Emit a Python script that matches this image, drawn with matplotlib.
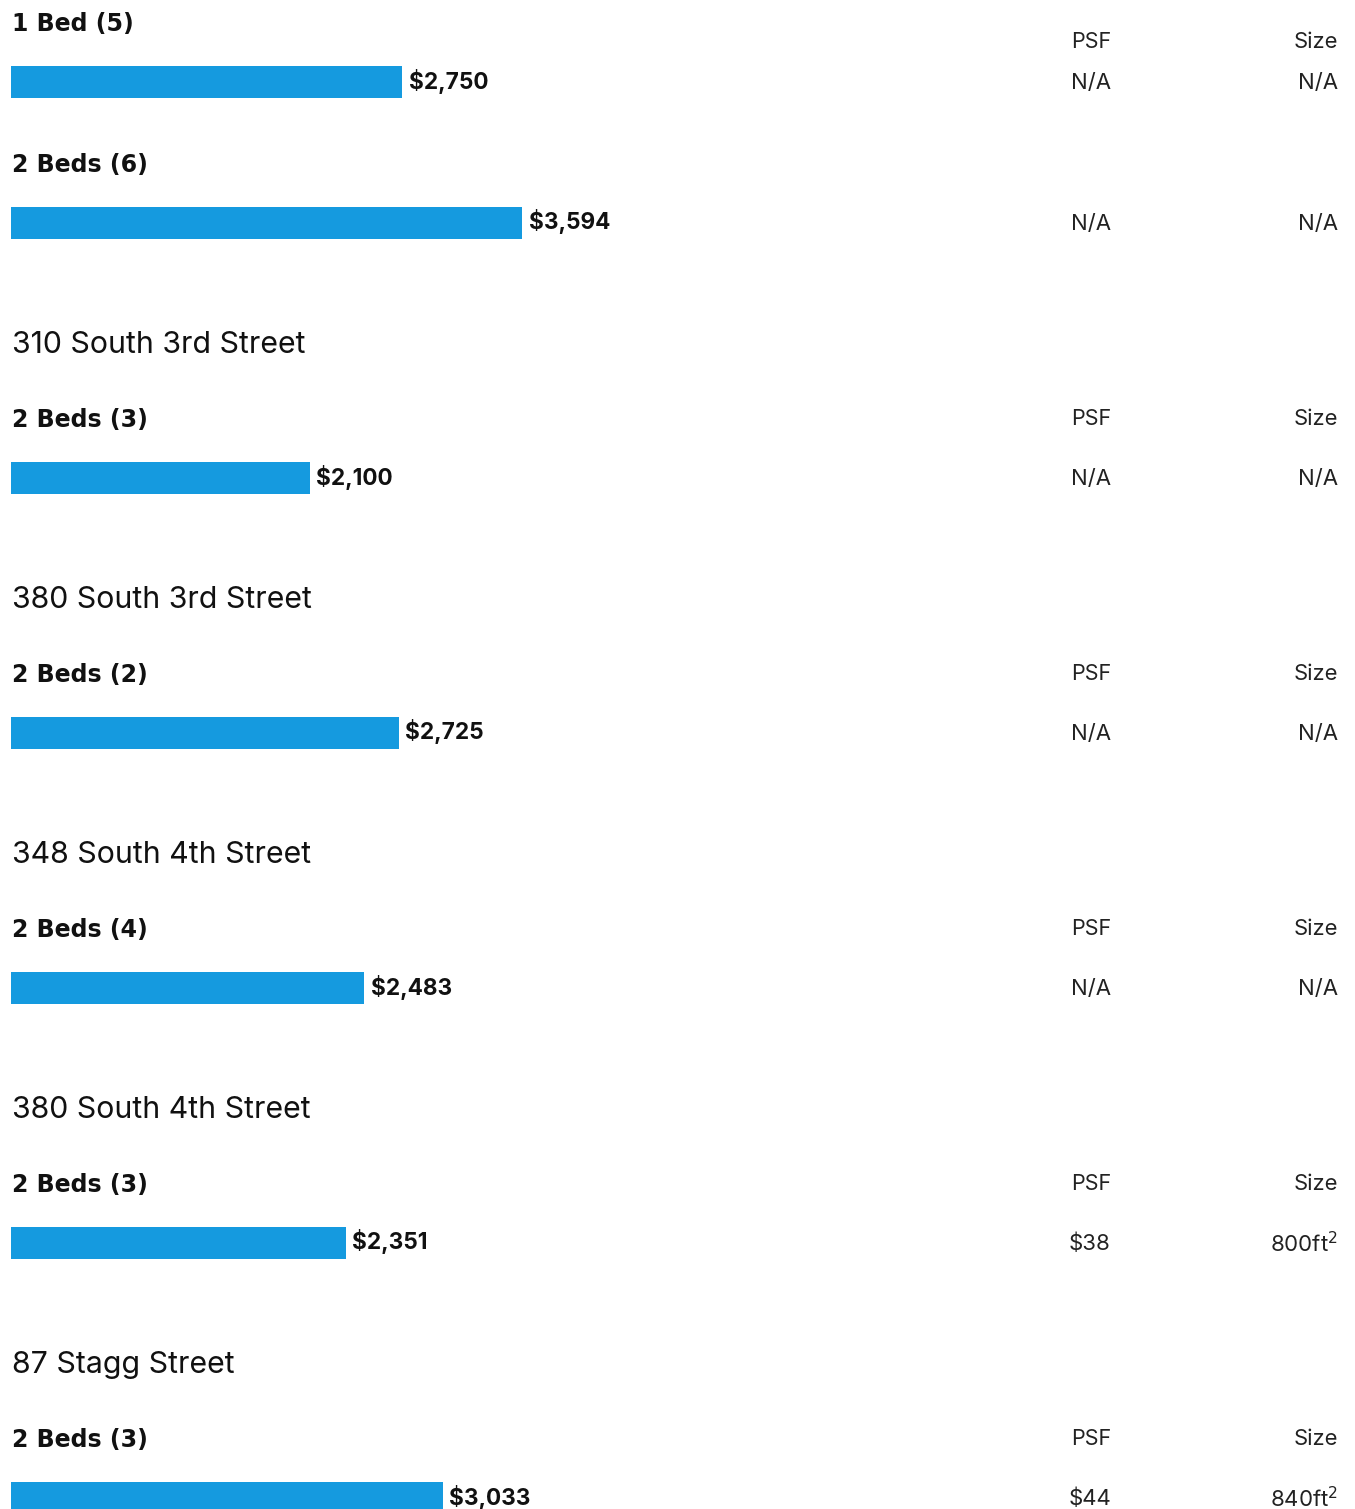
import matplotlib
matplotlib.use("Agg")
import matplotlib.pyplot as plt
from matplotlib.transforms import blended_transform_factory

# ---- data ----
section_titles = ["", "", "310 South 3rd Street", "380 South 3rd Street",
                  "348 South 4th Street", "380 South 4th Street", "87 Stagg Street"]
unit_labels = ["1 Bed (5)", "2 Beds (6)", "2 Beds (3)", "2 Beds (2)",
               "2 Beds (4)", "2 Beds (3)", "2 Beds (3)"]
rents = [2750, 3594, 2100, 2725, 2483, 2351, 3033]
psf_values = ["N/A", "N/A", "N/A", "N/A", "N/A", "$38", "$44"]
size_values = ["N/A", "N/A", "N/A", "N/A", "N/A", "800ft$^2$", "840ft$^2$"]
show_header = [True, False, True, True, True, True, True]

BAR_COLOR = "#159ADF"
W, H = 1355, 1509
fig = plt.figure(figsize=(W / 100, H / 100), dpi=100)
ax = fig.add_axes([0, 0, 1, 1])
k = 0.1423  # px per dollar
left_px = 11
ax.set_xlim(-left_px / k, (W - left_px) / k)
ax.set_ylim(H, 0)
ax.axis("off")

tr = blended_transform_factory(fig.transFigure, ax.transData)

# layout (pixel rows)
bar_y = []
y = 82
for i in range(len(rents)):
    bar_y.append(y)
    y += 141 if i == 0 else 255

bar_h = 32
ax.barh(bar_y, rents, height=bar_h, color=BAR_COLOR, left=0)

for i, (yc, r) in enumerate(zip(bar_y, rents)):
    ax.annotate(f"${r:,}", xy=(r, yc - 1), xytext=(4.5, 0), textcoords="offset points",
                ha="left", va="center", fontsize=16.3, fontweight="bold",
                family="Inter", color="#111111")
    ax.text(12 / W, yc - 58, unit_labels[i], transform=tr, ha="left", va="center",
            fontsize=17, fontweight="bold", family="DejaVu Sans", color="#111111")
    if section_titles[i]:
        ax.text(12 / W, yc - 133, section_titles[i], transform=tr, ha="left",
                va="center", fontsize=21.8, family="Inter", color="#111111")
    if show_header[i]:
        hy = yc - 40 if i == 0 else yc - 59
        ax.text(1111 / W, hy, "PSF", transform=tr, ha="right", va="center",
                fontsize=15.5, family="Inter", color="#222222")
        ax.text(1338 / W, hy, "Size", transform=tr, ha="right", va="center",
                fontsize=15.8, family="Inter", color="#222222")
    ax.text(1111 / W, yc + 1, psf_values[i], transform=tr, ha="right", va="center",
            fontsize=16, family="Inter", color="#222222")
    ax.text(1338 / W, yc + 1, size_values[i], transform=tr, ha="right", va="center",
            fontsize=16, family="Inter", color="#222222")

fig.savefig("out.png", dpi=100)
